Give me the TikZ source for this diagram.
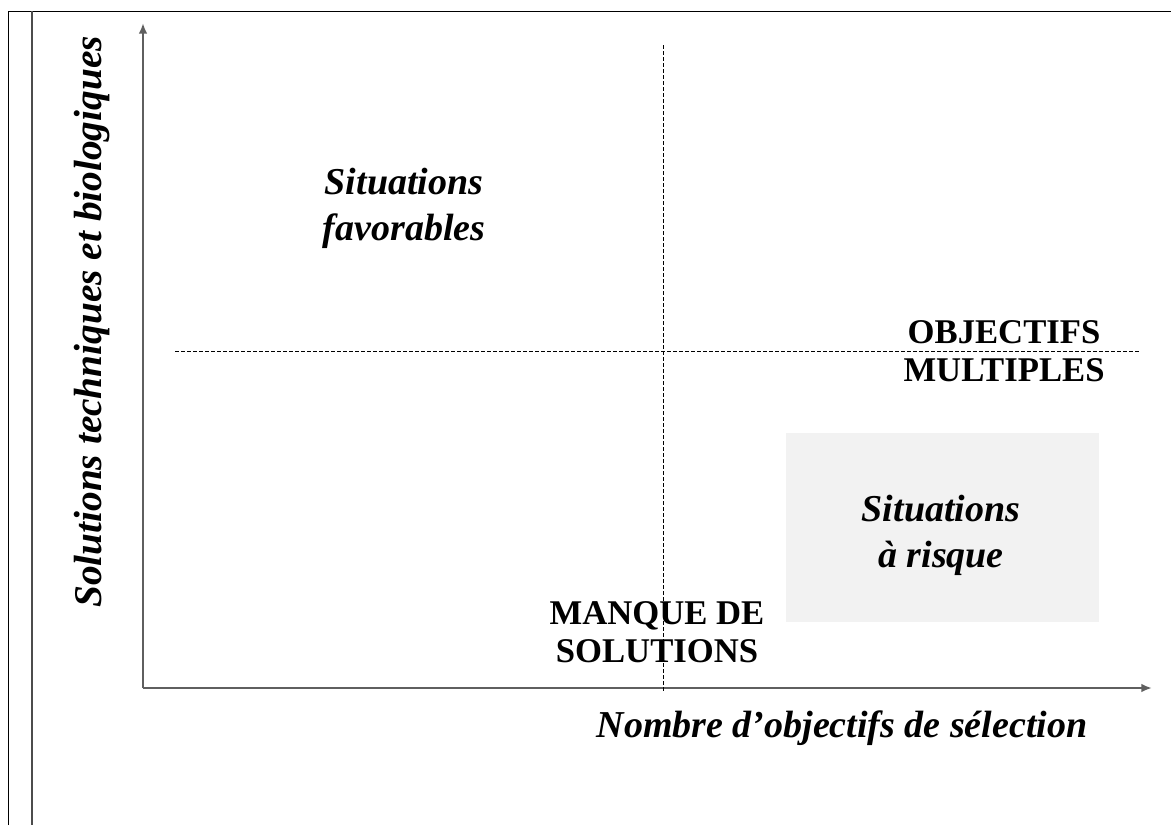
\documentclass[tikz,border=0pt]{standalone}
\usepackage{fontspec}
\setmainfont{Liberation Serif}
\usetikzlibrary{arrows.meta}
\definecolor{boxgrey}{RGB}{242,242,242}
\definecolor{axisgrey}{RGB}{95,95,95}
\tikzset{
  axis/.style={draw=axisgrey, line width=2pt, -{Latex[length=8pt,width=6.5pt]}},
  divider/.style={draw=black, line width=0.75pt, dash pattern=on 3pt off 1.5pt},
  italiclabel/.style={inner sep=0pt, align=center, font=\fontsize{28.5pt}{34.5pt}\selectfont\bfseries\itshape},
  caplabel/.style={inner sep=0pt, align=center, font=\fontsize{26pt}{28.5pt}\selectfont\bfseries},
  framepen/.style={draw=black, line width=0.75pt},
  innerpen/.style={draw=axisgrey!80!black, line width=1.8pt}
}
\begin{document}
\begin{tikzpicture}[x=0.75pt, y=-0.75pt]
\useasboundingbox (0,0) rectangle (1171,825);
% frame
\coordinate (fTL) at (8,11);
\coordinate (fBL) at (8,825);
\coordinate (fTR) at (1171,11);
\coordinate (iT) at (32,11);
\coordinate (iB) at (32,825);
\draw[framepen] (fBL) -- (fTL) -- (fTR);
\draw[innerpen] (iT) -- (iB);
% shaded box
\node[fill=boxgrey, inner sep=0pt, minimum width=313*0.75pt, minimum height=189*0.75pt] (riskbox) at (942.5,527.5) {};
% axes
\coordinate (origin) at (143,688);
\coordinate (ytip) at (143,23);
\coordinate (xtip) at (1152,688);
\draw[axis] (origin) -- (ytip);
\draw[axis] (origin) -- (xtip);
% dividers
\coordinate (vtop) at (663,45);
\coordinate (vbot) at (663,691);
\coordinate (hleft) at (175,351);
\coordinate (hright) at (1140,351);
\draw[divider] (vtop) -- (vbot);
\draw[divider] (hleft) -- (hright);
% labels
\node[italiclabel] (fav) at (404,208) {Situations\\favorables};
\node[italiclabel] (risk) at (941,535) {Situations\\à risque};
\node[caplabel] (obj) at (1004,351) {OBJECTIFS\\MULTIPLES};
\node[caplabel] (manque) at (657,632) {MANQUE DE\\SOLUTIONS};
\node[italiclabel, anchor=base] (xlab) at (842,737) {Nombre d’objectifs de sélection};
\node[italiclabel, rotate=90, font=\fontsize{29.5pt}{34.5pt}\selectfont\bfseries\itshape] (ylab) at (92,322) {Solutions techniques et biologiques};
\end{tikzpicture}
\end{document}
